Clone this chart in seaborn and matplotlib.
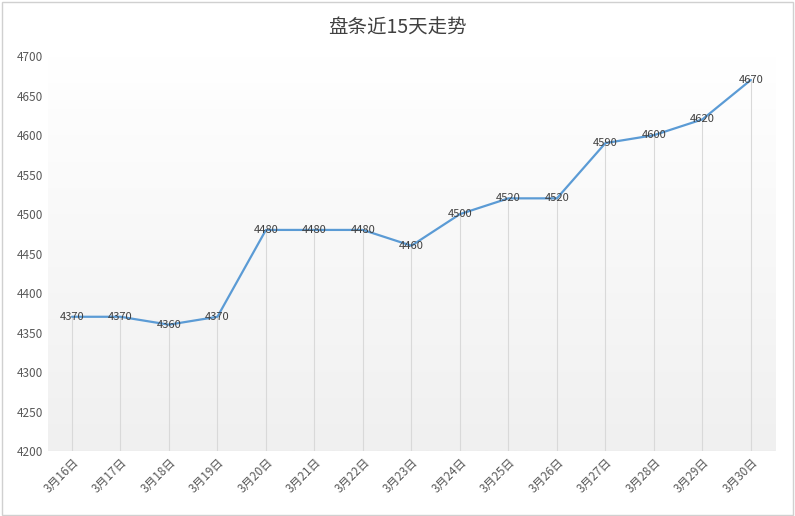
import seaborn as sns
import matplotlib.pyplot as plt
import numpy as np
import pandas as pd

dates = ['3月16日', '3月17日', '3月18日', '3月19日', '3月20日', '3月21日', '3月22日', '3月23日',
         '3月24日', '3月25日', '3月26日', '3月27日', '3月28日', '3月29日', '3月30日']
prices = [4370, 4370, 4360, 4370, 4480, 4480, 4480, 4460, 4500, 4520, 4520, 4590, 4600, 4620, 4670]

sns.set_style("white")
plt.rcParams['font.family'] = ['Noto Sans CJK SC', 'DejaVu Sans']

df = pd.DataFrame({'date': dates, 'price': prices})
x = np.arange(len(dates))

fig = plt.figure(figsize=(7.95, 5.16), dpi=100)
fig.patches.append(plt.Rectangle((0.002, 0.002), 0.996, 0.994, transform=fig.transFigure,
                                 fill=False, edgecolor='#d0d0d0', linewidth=1))
ax = fig.add_axes([0.060, 0.126, 0.915, 0.765])

# gradient background: white at top, light gray at bottom
grad = np.linspace(0, 1, 256).reshape(-1, 1)
ax.imshow(grad, extent=(-0.5, len(dates) - 0.5, 4200, 4700), aspect='auto', origin='upper',
          cmap=plt.matplotlib.colors.LinearSegmentedColormap.from_list('g', ['#ffffff', '#f0f0f0']),
          vmin=0, vmax=1, zorder=0)

ax.vlines(x, 4200, prices, color='#d9d9d9', linewidth=0.8, zorder=1)
sns.lineplot(x=x, y=df['price'], ax=ax, color='#5b9bd5', linewidth=1.6, zorder=2)
for xi, p in zip(x, prices):
    ax.text(xi, p, str(p), ha='center', va='center', fontsize=8, color='#404040', zorder=3)

ax.set_xlim(-0.5, len(dates) - 0.5)
ax.set_ylim(4200, 4700)
ax.set_yticks(range(4200, 4701, 50))
ax.set_xticks(x)
ax.set_xticklabels(dates, rotation=45, ha='right', rotation_mode='anchor', fontsize=8.5, color='#595959')
ax.tick_params(axis='y', labelsize=8.5, labelcolor='#595959', length=0)
ax.tick_params(axis='x', length=0)
ax.set_xlabel('')
ax.set_ylabel('')
for s in ax.spines.values():
    s.set_visible(False)
ax.axhline(4200, color='#d9d9d9', linewidth=0.8)
fig.text(0.5, 0.945, '盘条近15天走势', ha='center', va='center', fontsize=14, color='#404040')

fig.savefig('out.png', dpi=100)
